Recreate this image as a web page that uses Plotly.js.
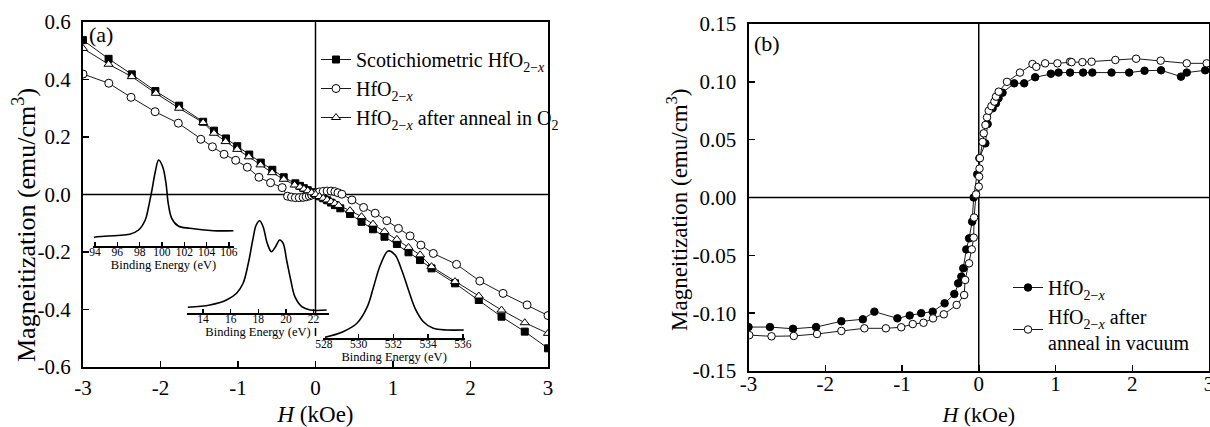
<!DOCTYPE html>
<html><head><meta charset="utf-8">
<script src="https://cdn.plot.ly/plotly-3.0.1.min.js"></script>
<style>html,body{margin:0;padding:0;background:#fff}#chart{width:1210px;height:427px}</style>
</head><body><div id="chart"></div>
<script>
// ---------- Panel (a) data ----------
const hStoich = [-3.0,-2.67,-2.37,-2.066,-1.76,-1.45,-1.31,-1.155,-1.01,-0.855,-0.706,-0.557,-0.41,-0.26,-0.2,-0.15,-0.1,-0.05,0.0,0.05,0.1,0.15,0.2,0.25,0.32,0.445,0.594,0.742,0.89,1.05,1.2,1.348,1.497,1.80,2.107,2.40,2.70,3.0];
const mStoich = [0.537,0.472,0.418,0.360,0.309,0.253,0.222,0.195,0.168,0.139,0.111,0.086,0.060,0.039,0.030,0.022,0.015,0.008,0.002,-0.006,-0.013,-0.020,-0.028,-0.037,-0.048,-0.068,-0.095,-0.121,-0.147,-0.172,-0.201,-0.228,-0.257,-0.309,-0.367,-0.425,-0.477,-0.535];

const hHfo = [-3.0,-2.667,-2.38,-2.07,-1.77,-1.48,-1.33,-1.18,-1.03,-0.88,-0.73,-0.58,-0.43,-0.36,-0.31,-0.26,-0.21,-0.16,-0.12,-0.08,-0.05,-0.02,0.02,0.05,0.1,0.15,0.2,0.25,0.29,0.34,0.47,0.62,0.77,0.92,1.07,1.22,1.36,1.52,1.82,2.12,2.42,2.73,3.0];
const mHfo = [0.419,0.387,0.338,0.288,0.248,0.192,0.166,0.140,0.119,0.095,0.060,0.041,0.024,-0.006,-0.009,-0.011,-0.011,-0.010,-0.008,-0.005,-0.002,0.002,0.006,0.009,0.011,0.012,0.012,0.010,0.006,0.001,-0.019,-0.045,-0.065,-0.091,-0.118,-0.144,-0.176,-0.205,-0.243,-0.301,-0.344,-0.384,-0.421];

const hO2 = [-3.0,-2.67,-2.37,-2.06,-1.76,-1.45,-1.31,-1.16,-1.01,-0.86,-0.71,-0.56,-0.41,-0.27,-0.2,-0.15,-0.1,-0.05,0.0,0.05,0.1,0.15,0.2,0.25,0.3,0.445,0.594,0.742,0.89,1.05,1.2,1.35,1.497,1.80,2.107,2.40,2.70,3.0];
const mO2 = [0.508,0.453,0.410,0.352,0.300,0.250,0.213,0.184,0.157,0.131,0.103,0.076,0.053,0.033,0.026,0.019,0.013,0.006,0.0,-0.007,-0.013,-0.019,-0.025,-0.031,-0.038,-0.056,-0.077,-0.103,-0.129,-0.156,-0.184,-0.210,-0.251,-0.303,-0.353,-0.402,-0.446,-0.483];

// ---------- Insets of panel (a): XPS spectra (intensity, arb. units) ----------
const eIn1 = [93.9,94.2,96.0,97.1,97.9,98.5,98.8,99.1,99.4,99.7,100.06,100.36,100.56,100.87,101.46,102.5,104.6,106.4];
const iIn1 = [8.5,9.3,10.5,11.7,16,26,39.3,56,74.3,86,79.3,62.7,42.7,27.7,20,17.7,15.3,15.3];
const eIn2 = [12.9,14.5,15.7,16.43,16.9,17.28,17.6,17.85,18.1,18.35,18.65,18.95,19.25,19.55,19.8,20.05,20.35,20.65,21.15,21.75,22.95];
const iIn2 = [5.7,8,13,19.7,29.7,49.7,73,88,92.3,86.3,69.7,61.3,66.3,73,69.7,53,33,16.3,6.3,3,3];
const eIn3 = [528.06,529.1,529.9,530.5,530.86,531.25,531.7,532.1,532.48,532.87,533.25,533.73,534.3,535.1,536.06];
const iIn3 = [0.7,6.3,14.7,31.3,51.3,73,87,83,68,48,29.7,16.3,9.7,8,8];

const in1Ticks = [94,96,98,100,102,104,106];
const in2Ticks = [14,16,18,20,22];
const in3Ticks = [528,530,532,534,536];

// ---------- Panel (b) data ----------
const hBHfo = [-3.0,-2.72,-2.42,-2.12,-1.79,-1.51,-1.36,-1.06,-0.90,-0.75,-0.60,-0.445,-0.318,-0.268,-0.227,-0.202,-0.162,-0.126,-0.086,-0.066,-0.02,0.008,0.086,0.116,0.181,0.224,0.258,0.31,0.462,0.592,0.735,0.94,1.04,1.19,1.36,1.48,1.73,1.96,2.16,2.375,2.635,2.71,2.95];
const mBHfo = [-0.112,-0.112,-0.1135,-0.112,-0.107,-0.1053,-0.0987,-0.1045,-0.102,-0.100,-0.0987,-0.0915,-0.0834,-0.0742,-0.0684,-0.0612,-0.0449,-0.0353,-0.0209,0.0,0.020,0.0339,0.0468,0.0635,0.0771,0.0814,0.0858,0.0906,0.0987,0.0987,0.104,0.107,0.108,0.108,0.108,0.108,0.108,0.108,0.1096,0.110,0.1045,0.108,0.110];

const hBVac = [-2.99,-2.70,-2.41,-2.107,-1.79,-1.49,-1.21,-1.01,-0.86,-0.72,-0.596,-0.455,-0.288,-0.19,-0.177,-0.126,-0.091,-0.066,-0.061,-0.035,0.0,0.005,0.01,0.015,0.05,0.065,0.087,0.108,0.13,0.165,0.204,0.225,0.26,0.368,0.537,0.70,0.75,0.865,1.025,1.19,1.21,1.35,1.47,1.78,2.05,2.37,2.71,2.97];
const mBVac = [-0.119,-0.120,-0.1197,-0.118,-0.1154,-0.1131,-0.1131,-0.1122,-0.1094,-0.1083,-0.1045,-0.101,-0.0929,-0.0843,-0.0713,-0.0569,-0.0448,-0.0347,-0.0173,0.0027,0.0094,0.018,0.025,0.034,0.048,0.0555,0.0627,0.0693,0.075,0.079,0.0829,0.0872,0.0915,0.100,0.108,0.1154,0.113,0.116,0.116,0.1174,0.117,0.117,0.1174,0.1189,0.120,0.1183,0.116,0.116];

// ---------- Tick labels ----------
const aTickVals = [-3,-2,-1,0,1,2,3];
const aTickText = ['-3','-2','-1','0','1','2','3'];
const aYVals = [-0.6,-0.4,-0.2,0,0.2,0.4,0.6];
const aYText = ['-0.6','-0.4','-0.2','0.0','0.2','0.4','0.6'];
const bYVals = [-0.15,-0.10,-0.05,0,0.05,0.10,0.15];
const bYText = ['-0.15','-0.10','-0.05','0.00','0.05','0.10','0.15'];
const yTitle = 'Magneitization (emu/cm<sup>3</sup>)';
const xTitle = '<i>H</i> (kOe)';

// ---------- Layout helpers (pixel -> paper) ----------
const W = 1210, H = 427;
const px = v => v / W;
const py = v => 1 - v / H;
const FONT = 'Liberation Serif, Times New Roman, Times, serif';
const SUB = 'HfO<sub>2−<i>x</i></sub>';

const lineStyle = {color: '#000', width: 0.9};
const traces = [
  {x: hStoich, y: mStoich, xaxis: 'x', yaxis: 'y', mode: 'lines+markers', name: 'Scotichiometric ' + SUB,
   line: lineStyle, marker: {symbol: 'square', size: 7, color: '#000', line: {color: '#000', width: 1}}, legend: 'legend'},
  {x: hHfo, y: mHfo, xaxis: 'x', yaxis: 'y', mode: 'lines+markers', name: SUB,
   line: lineStyle, marker: {symbol: 'circle', size: 8, color: '#fff', line: {color: '#000', width: 1}}, legend: 'legend'},
  {x: hO2, y: mO2, xaxis: 'x', yaxis: 'y', mode: 'lines+markers', name: SUB + ' after anneal in O<sub>2</sub>',
   line: lineStyle, marker: {symbol: 'triangle-up', size: 8, color: '#fff', line: {color: '#000', width: 1}}, legend: 'legend'},
  {x: eIn1, y: iIn1, xaxis: 'x3', yaxis: 'y3', mode: 'lines', line: {color: '#000', width: 1.6, shape: 'spline', smoothing: 1}, showlegend: false, hoverinfo: 'skip'},
  {x: eIn2, y: iIn2, xaxis: 'x4', yaxis: 'y4', mode: 'lines', line: {color: '#000', width: 1.6, shape: 'spline', smoothing: 1}, showlegend: false, hoverinfo: 'skip'},
  {x: eIn3, y: iIn3, xaxis: 'x5', yaxis: 'y5', mode: 'lines', line: {color: '#000', width: 1.6, shape: 'spline', smoothing: 1}, showlegend: false, hoverinfo: 'skip'},
  {x: hBHfo, y: mBHfo, xaxis: 'x2', yaxis: 'y2', mode: 'lines+markers', name: SUB,
   line: lineStyle, marker: {symbol: 'circle', size: 7.5, color: '#000', line: {color: '#000', width: 1}}, legend: 'legend2'},
  {x: hBVac, y: mBVac, xaxis: 'x2', yaxis: 'y2', mode: 'lines+markers', name: SUB + ' after<br>anneal in vacuum',
   line: lineStyle, marker: {symbol: 'circle', size: 7.5, color: '#fff', line: {color: '#000', width: 1}}, legend: 'legend2'}
];

const mainAxis = {
  showline: true, mirror: true, linecolor: '#000', linewidth: 2,
  ticks: 'inside', ticklen: 6, tickwidth: 1.5, tickcolor: '#000',
  showgrid: false, zeroline: false, tickfont: {family: FONT, size: 21, color: '#000'},
  automargin: false, ticklabeloverflow: 'allow'
};
const insetX = (dom, yax, rng, tv) => ({
  domain: dom, anchor: yax, range: rng, tickvals: tv, ticktext: tv.map(String),
  showline: true, linecolor: '#000', linewidth: 1.5, ticks: 'inside', ticklen: 4, tickwidth: 1.5, tickcolor: '#000',
  showgrid: false, zeroline: false, tickfont: {family: FONT, size: 11.5, color: '#000'},
  ticklabelstandoff: -5,
  title: {text: 'Binding Energy (eV)', font: {family: FONT, size: 12.5, color: '#000'}, standoff: 0},
  automargin: false, ticklabeloverflow: 'allow'
});
const insetY = (dom, xax, rng) => ({domain: dom, anchor: xax, range: rng, visible: false, fixedrange: true});

const layout = {
  width: W, height: H,
  margin: {l: 0, r: 0, t: 0, b: 0},
  paper_bgcolor: '#fff', plot_bgcolor: 'rgba(0,0,0,0)',
  font: {family: FONT, color: '#000'},
  xaxis: Object.assign({}, mainAxis, {domain: [px(83), px(548)], anchor: 'y', range: [-3, 3],
    tickvals: aTickVals, ticktext: aTickText, ticklabelstandoff: 1,
    title: {text: xTitle, font: {family: FONT, size: 23, color: '#000'}, standoff: 11}}),
  yaxis: Object.assign({}, mainAxis, {domain: [py(367), py(22)], anchor: 'x', range: [-0.6, 0.6],
    tickvals: aYVals, ticktext: aYText, ticklabelstandoff: 6}),
  xaxis2: Object.assign({}, mainAxis, {domain: [px(748.5), px(1209)], anchor: 'y2', range: [-3, 3],
    tickvals: aTickVals, ticktext: aTickText, ticklabelstandoff: -7,
    title: {text: xTitle, font: {family: FONT, size: 22, color: '#000'}, standoff: 16}}),
  yaxis2: Object.assign({}, mainAxis, {domain: [py(371), py(24)], anchor: 'x2', range: [-0.15, 0.15],
    tickvals: bYVals, ticktext: bYText, ticklabelstandoff: 6}),
  xaxis3: insetX([px(93), px(234)], 'y3', [93.82, 106.45], in1Ticks),
  yaxis3: insetY([py(246), py(156)], 'x3', [0, 90]),
  xaxis4: insetX([px(187), px(329)], 'y4', [12.84, 23.12], in2Ticks),
  yaxis4: insetY([py(313), py(213)], 'x4', [0, 100]),
  xaxis5: insetX([px(323.3), px(465)], 'y5', [527.96, 536.13], in3Ticks),
  yaxis5: insetY([py(338), py(238)], 'x5', [0, 100]),
  shapes: [
    {type: 'line', xref: 'x', yref: 'y', x0: -3, x1: 3, y0: 0, y1: 0, line: {color: '#000', width: 1.5}, layer: 'below'},
    {type: 'line', xref: 'x', yref: 'y', x0: 0, x1: 0, y0: 0.6, y1: -0.412, line: {color: '#000', width: 1.5}, layer: 'below'},
    {type: 'line', xref: 'x', yref: 'y', x0: 0, x1: 0, y0: -0.464, y1: -0.492, line: {color: '#000', width: 1.5}, layer: 'below'},
    {type: 'line', xref: 'x2', yref: 'y2', x0: -3, x1: 3, y0: 0, y1: 0, line: {color: '#000', width: 1.5}, layer: 'below'},
    {type: 'line', xref: 'x2', yref: 'y2', x0: 0, x1: 0, y0: -0.15, y1: 0.15, line: {color: '#000', width: 1.5}, layer: 'below'}
  ],
  annotations: [
    {text: '(a)', xref: 'paper', yref: 'paper', x: px(87), y: py(35), xanchor: 'left', yanchor: 'middle', showarrow: false, font: {family: FONT, size: 22, color: '#000'}},
    {text: '(b)', xref: 'paper', yref: 'paper', x: px(752), y: py(43), xanchor: 'left', yanchor: 'middle', showarrow: false, font: {family: FONT, size: 22, color: '#000'}},
    {text: yTitle, xref: 'paper', yref: 'paper', x: px(24), y: py(225), xanchor: 'center', yanchor: 'middle', textangle: -90, showarrow: false, font: {family: FONT, size: 26, color: '#000'}},
    {text: yTitle, xref: 'paper', yref: 'paper', x: px(677), y: py(210), xanchor: 'center', yanchor: 'middle', textangle: -90, showarrow: false, font: {family: FONT, size: 23, color: '#000'}}
  ],
  legend: {x: px(316), y: py(40), xanchor: 'left', yanchor: 'top', bgcolor: 'rgba(0,0,0,0)', borderwidth: 0,
    font: {family: FONT, size: 20, color: '#000'}, tracegroupgap: 0, itemwidth: 30},
  legend2: {x: px(1008), y: py(268), xanchor: 'left', yanchor: 'top', bgcolor: 'rgba(0,0,0,0)', borderwidth: 0,
    font: {family: FONT, size: 20, color: '#000'}, tracegroupgap: 0, itemwidth: 30},
  showlegend: true
};

Plotly.newPlot('chart', traces, layout, {staticPlot: true, displayModeBar: false});
</script></body></html>
